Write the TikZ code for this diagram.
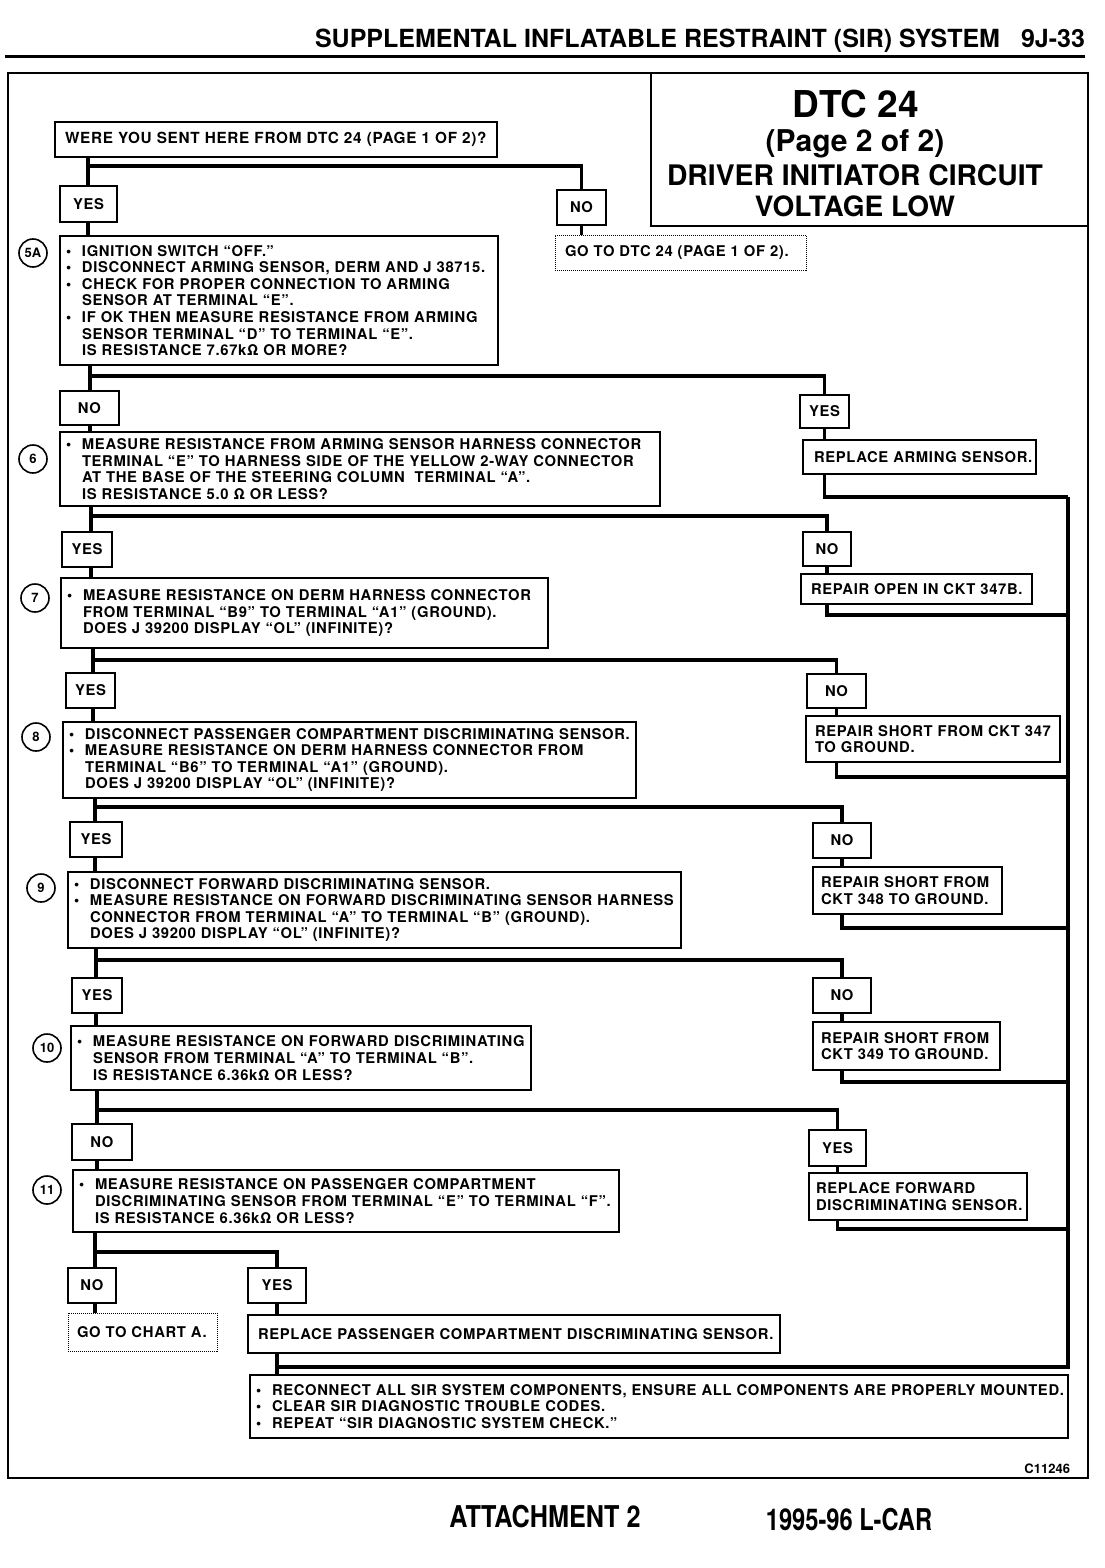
\documentclass[tikz,border=0pt]{standalone}
\usepackage{fontspec}
\setmainfont{TeX Gyre Heros}
\newfontfamily\bodyfam[LetterSpace=4.5]{TeX Gyre Heros}
\newcommand\bodyfont{\bodyfam\bfseries\fontsize{14.8}{16.6}\selectfont\hyphenpenalty=10000\exhyphenpenalty=10000}
\newcommand\numfont{\bfseries\fontsize{13}{13}\selectfont}
\newcommand\bul{\makebox[16pt][l]{•}}
\newcommand\ind{\hspace*{16pt}}
\tikzset{
  stepbox/.style={draw, line width=1.8pt, fill=white, anchor=north west, align=left,
    inner xsep=6pt, inner ysep=0pt, outer sep=0pt, font=\bodyfont},
  actbox/.style={stepbox, inner xsep=11pt},
  lbl/.style={draw, line width=1.8pt, fill=white, anchor=north west, inner sep=0pt,
    outer sep=0pt, font=\bodyfont},
  dotbox/.style={draw, densely dotted, line width=1pt, anchor=north west, align=left,
    inner xsep=10pt, inner ysep=0pt, outer sep=0pt, font=\bodyfont},
  conn/.style={line width=3.6pt},
  numc/.style={circle, draw, line width=1.6pt, minimum size=28pt, inner sep=0pt, font=\numfont},
  plain/.style={inner sep=0pt, outer sep=0pt},
}
\begin{document}
\begin{tikzpicture}[x=1pt,y=-1pt]
\useasboundingbox (0,0) rectangle (1104,1568);
\fill[white] (0,0) rectangle (1104,1568);

% header
\node[plain, anchor=base east, font=\bfseries\fontsize{25}{26}\selectfont] (hdr) at (1000,48) {SUPPLEMENTAL INFLATABLE RESTRAINT (SIR) SYSTEM};
\node[plain, anchor=base east, font=\bfseries\fontsize{25}{26}\selectfont] (pg) at (1085,48) {9J-33};
\draw[line width=3pt] (5,57) -- (1085,57);

% frame and title
\draw[line width=1.5pt] (8,73) rectangle (1088,1478);
\node[draw, line width=1.5pt, anchor=north west, minimum width=437pt, minimum height=153pt, inner sep=0pt, outer sep=0pt] (title) at (651,73) {};
\node[plain, anchor=base, font=\bfseries\fontsize{37}{37}\selectfont] (t1) at (856,118) {DTC 24};
\node[plain, anchor=base, font=\bfseries\fontsize{30}{30}\selectfont] (t2) at (855,151) {(Page 2 of 2)};
\node[plain, anchor=base, font=\bfseries\fontsize{28.3}{30}\selectfont] (t3) at (855,185) {DRIVER INITIATOR CIRCUIT};
\node[plain, anchor=base, font=\bfseries\fontsize{28}{30}\selectfont] (t4) at (855,216) {VOLTAGE LOW};

% question 0
\node[stepbox, inner xsep=10pt, text width=422pt, minimum height=35pt, font=\bodyfont\fontsize{15.3}{16.6}\selectfont] (q0) at (55,122) {WERE YOU SENT HERE FROM DTC 24 (PAGE 1 OF 2)?};
\node[lbl, minimum width=57pt, minimum height=36pt] (yes1) at (60,186) {YES};
\node[lbl, minimum width=49pt, minimum height=35pt] (no1) at (557,190) {NO};
\node[dotbox, text width=231pt, minimum height=35pt] (go1) at (555,235) {GO TO DTC 24 (PAGE 1 OF 2).};

% step 5A
\node[numc] (c5a) at (33,253) {5A};
\node[stepbox, text width=426pt, minimum height=129pt] (s5a) at (60,236) {\bul IGNITION SWITCH “OFF.”\\
\bul DISCONNECT ARMING SENSOR, DERM AND J 38715.\\
\bul CHECK FOR PROPER CONNECTION TO ARMING\\
\ind SENSOR AT TERMINAL “E”.\\
\bul IF OK THEN MEASURE RESISTANCE FROM ARMING\\
\ind SENSOR TERMINAL “D” TO TERMINAL “E”.\\
\ind IS RESISTANCE 7.67kΩ OR MORE?};
\node[lbl, minimum width=59pt, minimum height=34pt] (no2) at (60,391) {NO};
\node[lbl, minimum width=49pt, minimum height=33pt] (yes2) at (800,395) {YES};
\node[actbox, inner xsep=11pt, text width=211pt, minimum height=34pt] (act2) at (803,440) {\mbox{REPLACE ARMING SENSOR.}};

% step 6
\node[numc] (c6) at (33,459) {6};
\node[stepbox, text width=588pt, minimum height=74pt] (s6) at (60,432) {\bul MEASURE RESISTANCE FROM ARMING SENSOR HARNESS CONNECTOR\\
\ind TERMINAL “E” TO HARNESS SIDE OF THE YELLOW 2-WAY CONNECTOR\\
\ind AT THE BASE OF THE STEERING COLUMN\ \ TERMINAL “A”.\\
\ind IS RESISTANCE 5.0 Ω OR LESS?};
\node[lbl, minimum width=50pt, minimum height=35pt] (yes3) at (62,532) {YES};
\node[lbl, minimum width=48pt, minimum height=34pt] (no3) at (803,532) {NO};
\node[actbox, inner xsep=10pt, text width=211pt, minimum height=30pt] (act3) at (801,574) {\mbox{REPAIR OPEN IN CKT 347B.}};

% step 7
\node[numc] (c7) at (35,598) {7};
\node[stepbox, text width=475pt, minimum height=70pt] (s7) at (61,578) {\bul MEASURE RESISTANCE ON DERM HARNESS CONNECTOR\\
\ind FROM TERMINAL “B9” TO TERMINAL “A1” (GROUND).\\
\ind DOES J 39200 DISPLAY “OL” (INFINITE)?};
\node[lbl, minimum width=49pt, minimum height=35pt] (yes4) at (66,673) {YES};
\node[lbl, minimum width=59pt, minimum height=34pt] (no4) at (807,674) {NO};
\node[actbox, inner xsep=9pt, text width=236pt, minimum height=46pt] (act4) at (806,716) {\mbox{REPAIR SHORT FROM CKT 347}\\ TO GROUND.};

% step 8
\node[numc] (c8) at (36,737) {8};
\node[stepbox, text width=561pt, minimum height=76pt] (s8) at (63,722) {\bul DISCONNECT PASSENGER COMPARTMENT DISCRIMINATING SENSOR.\\
\bul MEASURE RESISTANCE ON DERM HARNESS CONNECTOR FROM\\
\ind TERMINAL “B6” TO TERMINAL “A1” (GROUND).\\
\ind DOES J 39200 DISPLAY “OL” (INFINITE)?};
\node[lbl, minimum width=52pt, minimum height=35pt] (yes5) at (70,822) {YES};
\node[lbl, minimum width=58pt, minimum height=35pt] (no5) at (813,823) {NO};
\node[actbox, inner xsep=8pt, text width=173pt, minimum height=47pt] (act5) at (813,867) {\mbox{REPAIR SHORT FROM}\\ \mbox{CKT 348 TO GROUND.}};

% step 9
\node[numc] (c9) at (41,888) {9};
\node[stepbox, text width=601pt, minimum height=76pt] (s9) at (68,872) {\bul DISCONNECT FORWARD DISCRIMINATING SENSOR.\\
\bul MEASURE RESISTANCE ON FORWARD DISCRIMINATING SENSOR HARNESS\\
\ind CONNECTOR FROM TERMINAL “A” TO TERMINAL “B” (GROUND).\\
\ind DOES J 39200 DISPLAY “OL” (INFINITE)?};
\node[lbl, minimum width=50pt, minimum height=35pt] (yes6) at (72,978) {YES};
\node[lbl, minimum width=58pt, minimum height=35pt] (no6) at (813,978) {NO};
\node[actbox, inner xsep=8pt, text width=171pt, minimum height=48pt] (act6) at (813,1022) {\mbox{REPAIR SHORT FROM}\\ \mbox{CKT 349 TO GROUND.}};

% step 10
\node[numc] (c10) at (47,1048) {10};
\node[stepbox, text width=448pt, minimum height=64pt] (s10) at (71,1026) {\bul MEASURE RESISTANCE ON FORWARD DISCRIMINATING\\
\ind SENSOR FROM TERMINAL “A” TO TERMINAL “B”.\\
\ind IS RESISTANCE 6.36kΩ OR LESS?};
\node[lbl, minimum width=60pt, minimum height=36pt] (no7) at (72,1124) {NO};
\node[lbl, minimum width=57pt, minimum height=36pt] (yes7) at (809,1130) {YES};
\node[actbox, inner xsep=7pt, text width=204pt, minimum height=47pt] (act7) at (809,1173) {\mbox{REPLACE FORWARD}\\ \mbox{DISCRIMINATING SENSOR.}};

% step 11
\node[numc] (c11) at (47,1190) {11};
\node[stepbox, text width=534pt, minimum height=62pt] (s11) at (73,1170) {\bul MEASURE RESISTANCE ON PASSENGER COMPARTMENT\\
\ind DISCRIMINATING SENSOR FROM TERMINAL “E” TO TERMINAL “F”.\\
\ind IS RESISTANCE 6.36kΩ OR LESS?};
\node[lbl, minimum width=48pt, minimum height=35pt] (no8) at (68,1268) {NO};
\node[lbl, minimum width=58pt, minimum height=35pt] (yes8) at (248,1268) {YES};
\node[dotbox, inner xsep=9pt, text width=131pt, minimum height=38pt] (go2) at (68,1313) {\mbox{GO TO CHART A.}};
\node[actbox, inner xsep=10pt, text width=512pt, minimum height=38pt] (act8) at (248,1315) {REPLACE PASSENGER COMPARTMENT DISCRIMINATING SENSOR.};

% final
\node[stepbox, text width=806pt, minimum height=63pt] (final) at (250,1375) {\bul RECONNECT ALL SIR SYSTEM COMPONENTS, ENSURE ALL COMPONENTS ARE PROPERLY MOUNTED.\\
\bul CLEAR SIR DIAGNOSTIC TROUBLE CODES.\\
\bul REPEAT “SIR DIAGNOSTIC SYSTEM CHECK.”};

\node[plain, anchor=base east, font=\bfseries\fontsize{13}{13}\selectfont] (code) at (1070,1473) {C11246};
\node[plain, anchor=base, font=\bfseries\fontsize{30}{30}\selectfont] (att) at (545,1527) {\scalebox{0.84}[1]{ATTACHMENT 2}};
\node[plain, anchor=base, font=\bfseries\fontsize{30}{30}\selectfont] (car) at (849,1530) {\scalebox{0.79}[1]{1995-96 L-CAR}};

% junctions and bus
\coordinate (j1) at (88,166);
\coordinate (j2) at (90,376);
\coordinate (j3) at (91,516);
\coordinate (j4) at (93,660);
\coordinate (j5) at (95,807);
\coordinate (j6) at (96,960);
\coordinate (j7) at (97,1110);
\coordinate (j8) at (95,1252);
\coordinate (b2) at (1068,497);
\coordinate (b3) at (1068,615);
\coordinate (b4) at (1068,777);
\coordinate (b5) at (1068,928);
\coordinate (b6) at (1068,1082);
\coordinate (b7) at (1068,1229);
\coordinate (bb) at (1068,1367);

% connectors
\draw[conn] (q0.south -| j1) -- (j1 |- yes1.north);
\draw[conn] (j1) -| (no1.north);
\draw[conn] (yes1.south -| j1) -- (j1 |- s5a.north);
\draw[conn] (no1.south) -- (no1.south |- go1.north);

\draw[conn] (s5a.south -| j2) -- (j2 |- no2.north);
\draw[conn] (j2) -| (yes2.north);
\draw[conn] (no2.south -| j2) -- (j2 |- s6.north);
\draw[conn] (yes2.south) -- (yes2.south |- act2.north);
\draw[conn] (act2.south -| yes2) |- (b2);

\draw[conn] (s6.south -| j3) -- (j3 |- yes3.north);
\draw[conn] (j3) -| (no3.north);
\draw[conn] (yes3.south -| j3) -- (j3 |- s7.north);
\draw[conn] (no3.south) -- (no3.south |- act3.north);
\draw[conn] (act3.south -| no3) |- (b3);

\draw[conn] (s7.south -| j4) -- (j4 |- yes4.north);
\draw[conn] (j4) -| (no4.north);
\draw[conn] (yes4.south -| j4) -- (j4 |- s8.north);
\draw[conn] (no4.south) -- (no4.south |- act4.north);
\draw[conn] (act4.south -| no4) |- (b4);

\draw[conn] (s8.south -| j5) -- (j5 |- yes5.north);
\draw[conn] (j5) -| (no5.north);
\draw[conn] (yes5.south -| j5) -- (j5 |- s9.north);
\draw[conn] (no5.south) -- (no5.south |- act5.north);
\draw[conn] (act5.south -| no5) |- (b5);

\draw[conn] (s9.south -| j6) -- (j6 |- yes6.north);
\draw[conn] (j6) -| (no6.north);
\draw[conn] (yes6.south -| j6) -- (j6 |- s10.north);
\draw[conn] (no6.south) -- (no6.south |- act6.north);
\draw[conn] (act6.south -| no6) |- (b6);

\draw[conn] (s10.south -| j7) -- (j7 |- no7.north);
\draw[conn] (j7) -| (yes7.north);
\draw[conn] (no7.south -| j7) -- (j7 |- s11.north);
\draw[conn] (yes7.south) -- (yes7.south |- act7.north);
\draw[conn] (act7.south -| yes7) |- (b7);

\draw[conn] (s11.south -| j8) -- (j8 |- no8.north);
\draw[conn] (j8) -| (yes8.north);
\draw[conn] (no8.south -| j8) -- (j8 |- go2.north);
\draw[conn] (yes8.south) -- (yes8.south |- act8.north);
\draw[conn] (act8.south -| yes8) -- (yes8 |- final.north);

\draw[conn] (b2) -- (bb) -- (bb -| yes8);
\end{tikzpicture}
\end{document}
